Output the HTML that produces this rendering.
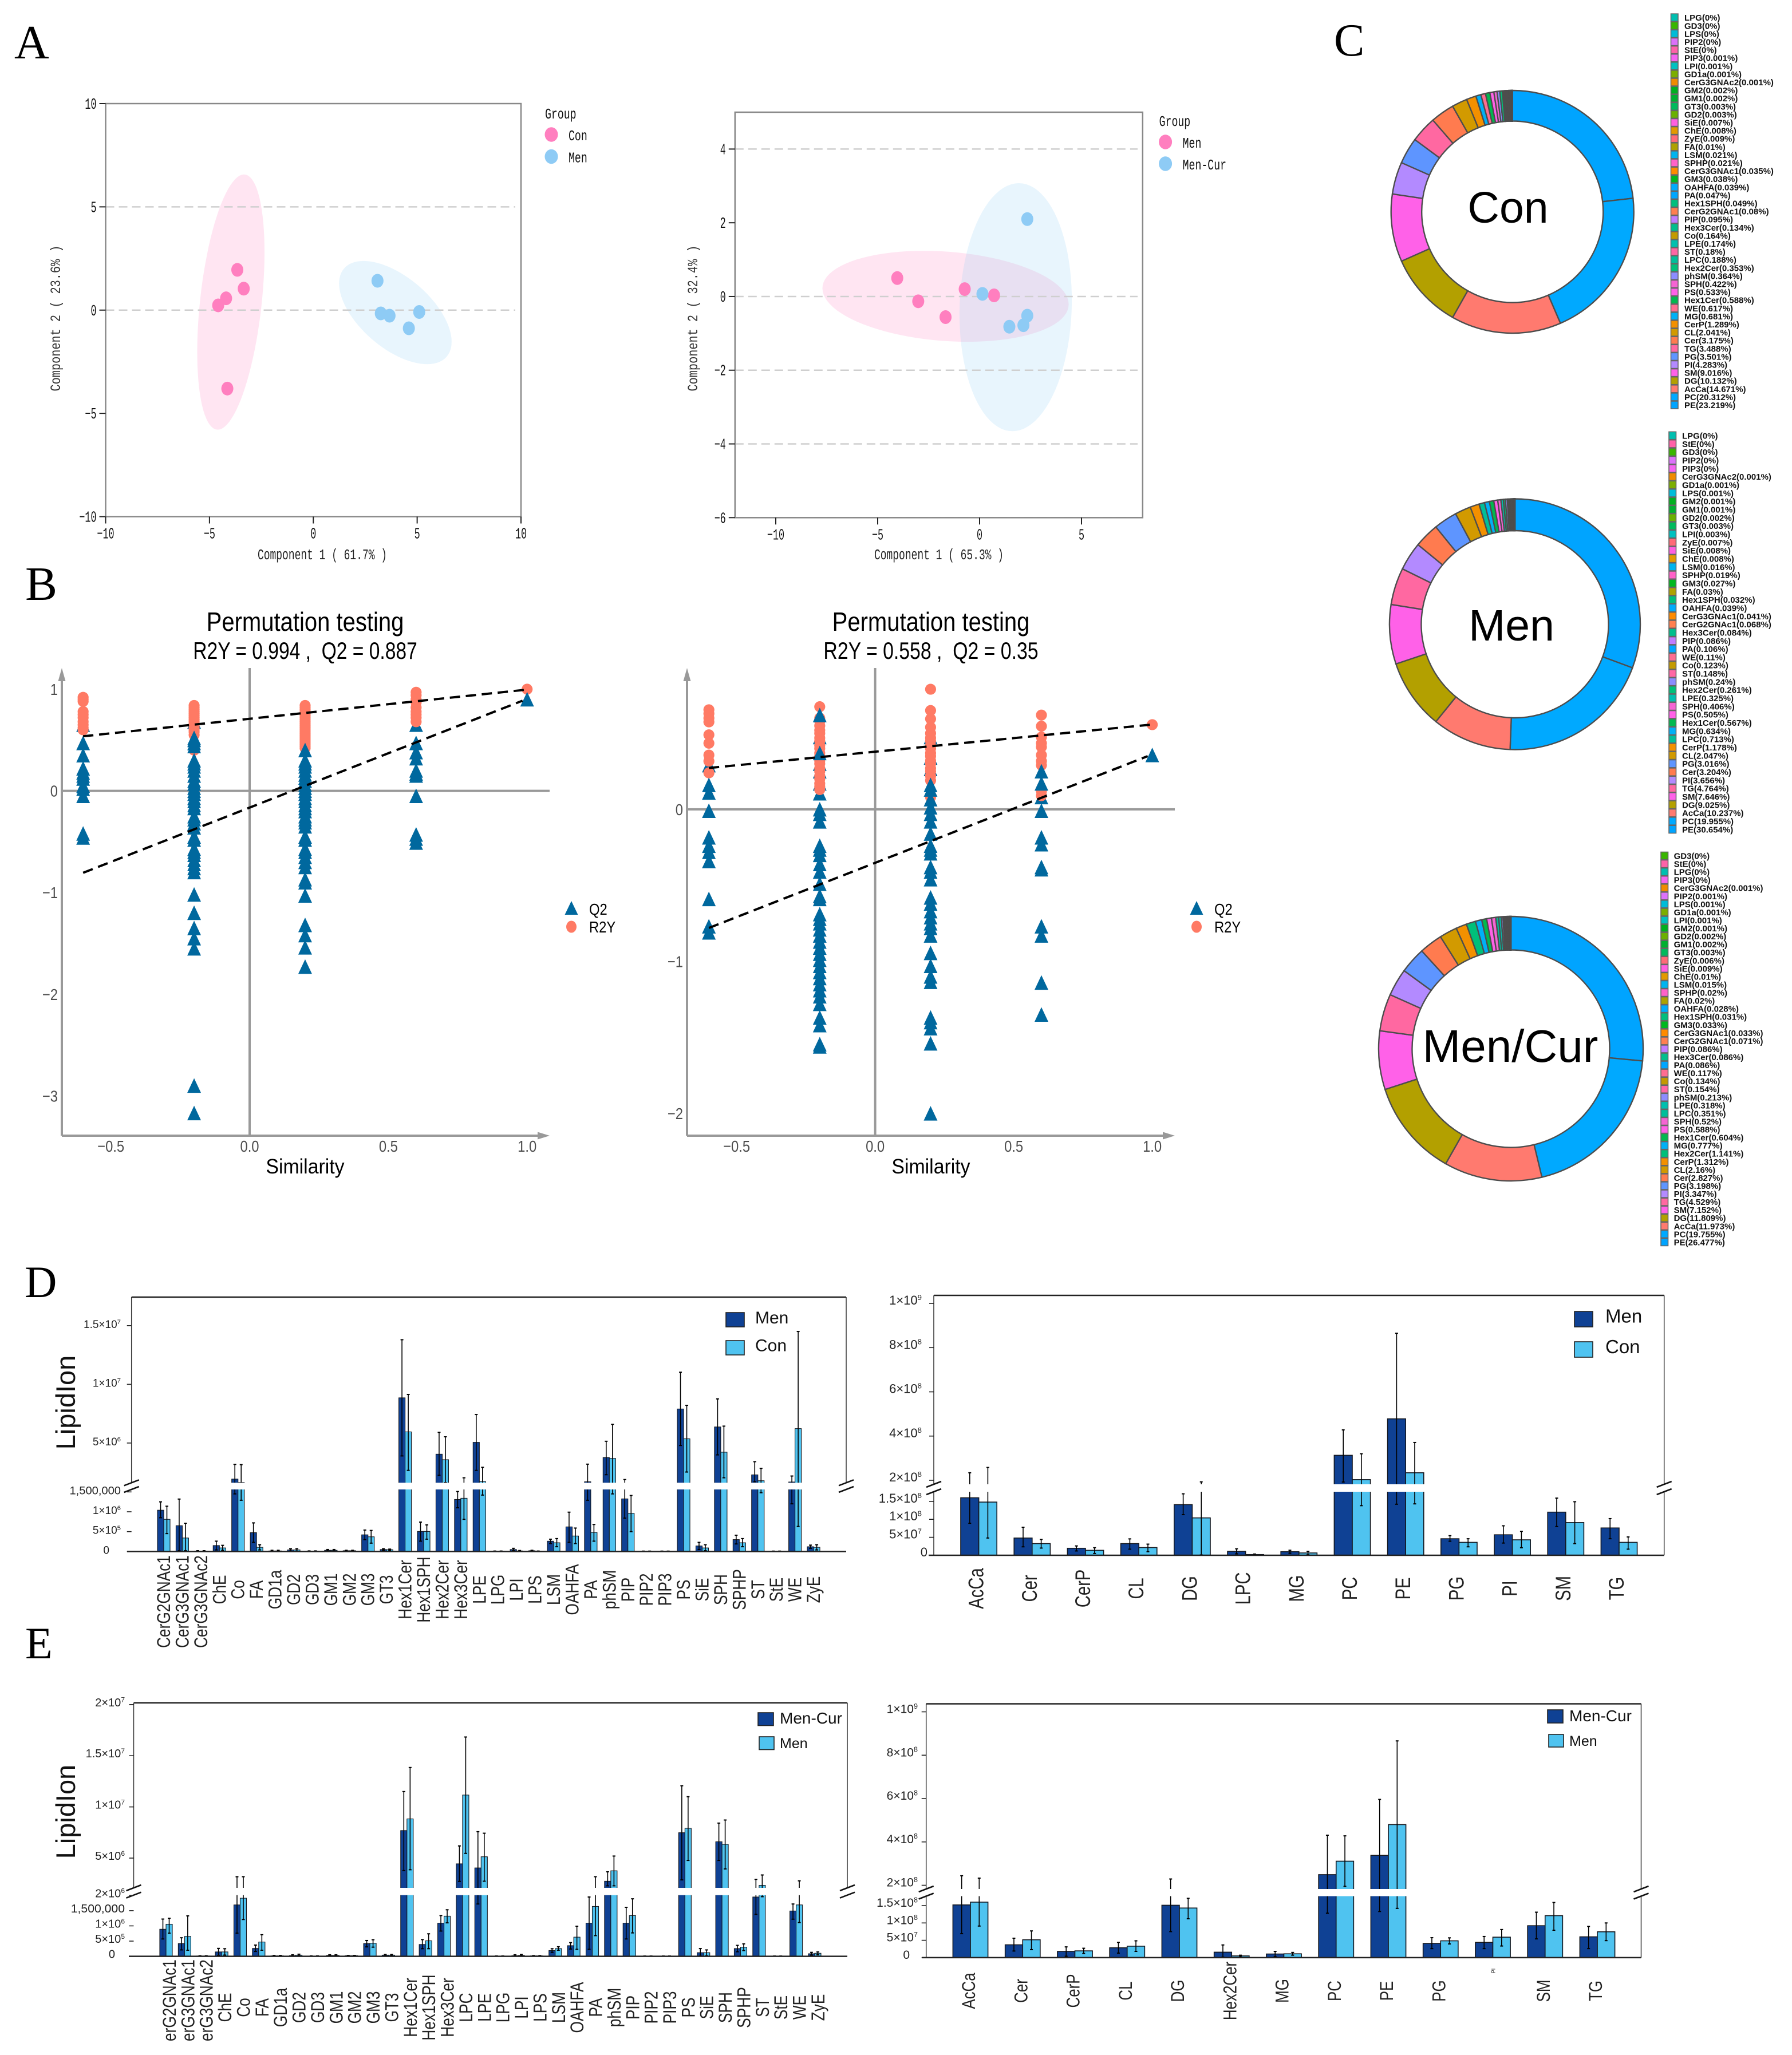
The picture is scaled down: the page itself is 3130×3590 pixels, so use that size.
<!DOCTYPE html>
<html lang="en">
<head>
<meta charset="utf-8">
<title>Lipidomics figure</title>
<style>
html,body{margin:0;padding:0;background:#fff;}
svg{display:block;}
text{white-space:pre;}
</style>
</head>
<body>
<svg id="figure" xmlns="http://www.w3.org/2000/svg" width="3130" height="3590" viewBox="0 0 3130 3590">
<defs>
<clipPath id="e1-label-clip"><rect x="200" y="3420" width="1300" height="146"></rect></clipPath>
</defs>
<rect x="0" y="0" width="3130" height="3590" fill="#fff"></rect>
<text x="25" y="102" font-family="'Liberation Serif',serif" font-size="84">A</text>
<text x="44" y="1048" font-family="'Liberation Serif',serif" font-size="84">B</text>
<text x="2330" y="97" font-family="'Liberation Serif',serif" font-size="80">C</text>
<text x="43" y="2266" font-family="'Liberation Serif',serif" font-size="78">D</text>
<text x="44" y="2897" font-family="'Liberation Serif',serif" font-size="78">E</text>
<g id="root"></g>
</svg>
<script>
// ---------- Panel A data ----------
const a1Groups = ['Con', 'Men'];
const a1ConX = [-3.66, -3.35, -4.2, -4.58, -4.14];
const a1ConY = [1.95, 1.04, 0.57, 0.23, -3.8];
const a1MenX = [3.09, 3.25, 3.67, 5.1, 4.6];
const a1MenY = [1.42, -0.16, -0.27, -0.09, -0.88];
const a1XTicks = [-10, -5, 0, 5, 10];
const a1YTicks = [10, 5, 0, -5, -10];
const a1Grid = [5, 0];
const a2Groups = ['Men', 'Men-Cur'];
const a2MenX = [-4.04, -3.01, -1.67, -0.73, 0.71];
const a2MenY = [0.5, -0.13, -0.56, 0.2, 0.03];
const a2CurX = [0.14, 2.34, 2.34, 2.15, 1.46];
const a2CurY = [0.07, 2.1, -0.52, -0.78, -0.82];
const a2XTicks = [-10, -5, 0, 5];
const a2YTicks = [4, 2, 0, -2, -4, -6];
const a2Grid = [4, 0, -2, -4, -6];

// ---------- Panel B data ----------
const similarity = [-0.6, -0.2, 0.2, 0.6, 1.0];
const bXTicks = [-0.5, 0, 0.5, 1.0];
const bXTickLabels = ['\u22120.5', '0.0', '0.5', '1.0'];
const b1YTicks = [1, 0, -1, -2, -3];
const b2YTicks = [0, -1, -2];
const b1Q2Back = [[0.65], [0.68], [], [0.65], []];
const b1R2Y = [
  [0.92, 0.9, 0.88, 0.78, 0.75, 0.72, 0.68, 0.65, 0.62, 0.6],
  [0.84, 0.82, 0.8, 0.78, 0.76, 0.74, 0.72, 0.7, 0.68, 0.66, 0.64, 0.62, 0.6, 0.58, 0.55, 0.4],
  [0.84, 0.82, 0.8, 0.78, 0.76, 0.74, 0.72, 0.7, 0.68, 0.66, 0.64, 0.62, 0.6, 0.58, 0.56, 0.54, 0.52, 0.5, 0.48, 0.46, 0.44, 0.42],
  [0.97, 0.94, 0.9, 0.87, 0.82, 0.78, 0.75, 0.72, 0.68],
  [1.0]
];
const b1Q2 = [
  [0.47, 0.35, 0.22, 0.18, 0.15, 0.12, 0.05, 0.02, -0.05, -0.42, -0.46],
  [0.52, 0.5, 0.47, 0.44, 0.3, 0.27, 0.24, 0.2, 0.15, 0.1, 0.07, 0.03, 0, -0.03, -0.07, -0.1, -0.14, -0.17, -0.25, -0.28, -0.32, -0.36, -0.45, -0.48, -0.57, -0.6, -0.63, -0.68, -0.72, -0.76, -0.8, -1.02, -1.2, -1.35, -1.45, -1.55, -2.9, -3.17],
  [0.4, 0.3, 0.27, 0.24, 0.2, 0.16, 0.13, 0.1, 0.06, 0.03, 0, -0.03, -0.07, -0.1, -0.14, -0.17, -0.2, -0.25, -0.28, -0.31, -0.35, -0.45, -0.48, -0.57, -0.6, -0.65, -0.7, -0.75, -0.87, -0.9, -1.03, -1.32, -1.42, -1.54, -1.73],
  [0.47, 0.38, 0.32, 0.2, 0.17, 0.15, -0.05, -0.43, -0.47, -0.51],
  [0.9]
];
const b1TrendR2Y = [0.537, 0.996];
const b1TrendQ2 = [-0.806, 0.887];
const b2Q2Back = [[0.29], [0.475, 0.3, 0.25, 0.17, 0.105], [0.475, 0.34, 0.265], [0.08], []];
const b2R2Y = [
  [0.655, 0.63, 0.6, 0.575, 0.49, 0.435, 0.357, 0.317, 0.24],
  [0.675, 0.6, 0.58, 0.55, 0.52, 0.5, 0.47, 0.45, 0.42, 0.4, 0.37, 0.35, 0.32, 0.3, 0.27, 0.25, 0.22, 0.2, 0.17, 0.15, 0.13],
  [0.79, 0.65, 0.595, 0.54, 0.5, 0.47, 0.45, 0.42, 0.4, 0.37, 0.35, 0.32, 0.3, 0.27, 0.25, 0.22, 0.19, 0.08],
  [0.62, 0.547, 0.475, 0.435, 0.41, 0.357, 0.317, 0.29, 0.12, 0.09],
  [0.557]
];
const b2Q2 = [
  [0.16, 0.11, -0.01, -0.185, -0.24, -0.28, -0.34, -0.59, -0.77, -0.81],
  [0.62, 0.37, 0, -0.03, -0.08, -0.24, -0.265, -0.3, -0.36, -0.41, -0.49, -0.57, -0.59, -0.69, -0.72, -0.75, -0.79, -0.83, -0.87, -0.91, -0.95, -0.99, -1.03, -1.07, -1.11, -1.15, -1.19, -1.23, -1.28, -1.37, -1.42, -1.545, -1.56],
  [0.16, 0.13, 0.066, 0.013, -0.03, -0.08, -0.16, -0.24, -0.265, -0.29, -0.38, -0.41, -0.46, -0.58, -0.62, -0.67, -0.71, -0.75, -0.78, -0.83, -0.945, -1.03, -1.1, -1.135, -1.37, -1.4, -1.44, -1.54, -2],
  [0.25, 0.17, -0.01, -0.185, -0.23, -0.38, -0.395, -0.77, -0.83, -1.14, -1.35],
  [0.357]
];
const b2TrendR2Y = [0.272, 0.558];
const b2TrendQ2 = [-0.78, 0.35];

// ---------- Panel C data (legend order, top to bottom) ----------
const conNames = ['LPG','GD3','LPS','PIP2','StE','PIP3','LPI','GD1a','CerG3GNAc2','GM2','GM1','GT3','GD2','SiE','ChE','ZyE','FA','LSM','SPHP','CerG3GNAc1','GM3','OAHFA','PA','Hex1SPH','CerG2GNAc1','PIP','Hex3Cer','Co','LPE','ST','LPC','Hex2Cer','phSM','SPH','PS','Hex1Cer','WE','MG','CerP','CL','Cer','TG','PG','PI','SM','DG','AcCa','PC','PE'];
const conValues = [0,0,0,0,0,0.001,0.001,0.001,0.001,0.002,0.002,0.003,0.003,0.007,0.008,0.009,0.01,0.021,0.021,0.035,0.038,0.039,0.047,0.049,0.08,0.095,0.134,0.164,0.174,0.18,0.188,0.353,0.364,0.422,0.533,0.588,0.617,0.681,1.289,2.041,3.175,3.488,3.501,4.283,9.016,10.132,14.671,20.312,23.219];
const menNames = ['LPG','StE','GD3','PIP2','PIP3','CerG3GNAc2','GD1a','LPS','GM2','GM1','GD2','GT3','LPI','ZyE','SiE','ChE','LSM','SPHP','GM3','FA','Hex1SPH','OAHFA','CerG3GNAc1','CerG2GNAc1','Hex3Cer','PIP','PA','WE','Co','ST','phSM','Hex2Cer','LPE','SPH','PS','Hex1Cer','MG','LPC','CerP','CL','PG','Cer','PI','TG','SM','DG','AcCa','PC','PE'];
const menValues = [0,0,0,0,0,0.001,0.001,0.001,0.001,0.001,0.002,0.003,0.003,0.007,0.008,0.008,0.016,0.019,0.027,0.03,0.032,0.039,0.041,0.068,0.084,0.086,0.106,0.11,0.123,0.148,0.24,0.261,0.325,0.406,0.505,0.567,0.634,0.713,1.178,2.047,3.016,3.204,3.656,4.764,7.646,9.025,10.237,19.955,30.654];
const curNames = ['GD3','StE','LPG','PIP3','CerG3GNAc2','PIP2','LPS','GD1a','LPI','GM2','GD2','GM1','GT3','ZyE','SiE','ChE','LSM','SPHP','FA','OAHFA','Hex1SPH','GM3','CerG3GNAc1','CerG2GNAc1','PIP','Hex3Cer','PA','WE','Co','ST','phSM','LPE','LPC','SPH','PS','Hex1Cer','MG','Hex2Cer','CerP','CL','Cer','PG','PI','TG','SM','DG','AcCa','PC','PE'];
const curValues = [0,0,0,0,0.001,0.001,0.001,0.001,0.001,0.001,0.002,0.002,0.003,0.006,0.009,0.01,0.015,0.02,0.02,0.028,0.031,0.033,0.033,0.071,0.086,0.086,0.086,0.117,0.134,0.154,0.213,0.318,0.351,0.52,0.588,0.604,0.777,1.141,1.312,2.16,2.827,3.198,3.347,4.529,7.152,11.809,11.973,19.755,26.477];

// ---------- Panel D data ----------
const d1Categories = ['CerG2GNAc1','CerG3GNAc1','CerG3GNAc2','ChE','Co','FA','GD1a','GD2','GD3','GM1','GM2','GM3','GT3','Hex1Cer','Hex1SPH','Hex2Cer','Hex3Cer','LPE','LPG','LPI','LPS','LSM','OAHFA','PA','phSM','PIP','PIP2','PIP3','PS','SiE','SPH','SPHP','ST','StE','WE','ZyE'];
// units of 1e6
const d1MenMean = [1.04,0.65,0.012,0.15,1.93,0.475,0.015,0.04,0.01,0.03,0.02,0.42,0.05,8.85,0.505,4.05,1.31,5.06,0.008,0.05,0.02,0.26,0.62,1.7,3.77,1.325,0.006,0.006,7.9,0.14,6.37,0.3,2.29,0.006,1.68,0.12];
const d1MenHigh = [1.25,1.32,0.02,0.26,3.18,0.72,0.03,0.07,0.015,0.05,0.03,0.54,0.07,13.8,0.74,5.91,1.51,7.43,0.012,0.08,0.03,0.31,0.99,3.2,5.15,1.89,0.01,0.01,11.03,0.23,8.76,0.41,3.41,0.01,2.19,0.16];
const d1MenLow = [0.85,0.02,0.005,0.04,1.45,0.23,0.005,0.01,0.005,0.01,0.01,0.3,0.03,3.9,0.26,2.25,1.1,2.67,0.004,0.02,0.01,0.2,0.23,1.29,2.3,0.84,0.002,0.002,4.79,0.05,3.99,0.19,1.7,0.002,1.2,0.08];
const d1ConMean = [0.81,0.34,0.012,0.09,1.64,0.105,0.015,0.04,0.01,0.03,0.02,0.37,0.045,5.95,0.505,3.58,1.34,1.72,0.008,0.015,0.008,0.22,0.39,0.48,3.69,0.96,0.006,0.006,5.36,0.09,4.22,0.22,1.79,0.006,6.23,0.105];
const d1ConHigh = [1.14,0.71,0.02,0.155,3.16,0.17,0.03,0.07,0.015,0.05,0.03,0.53,0.06,9.14,0.67,5.53,2.04,2.93,0.012,0.025,0.012,0.325,0.59,0.68,6.59,1.41,0.01,0.01,8.21,0.17,6.44,0.325,2.84,0.01,14.5,0.17];
const d1ConLow = [0.45,0.02,0.005,0.03,1.29,0.04,0.005,0.01,0.005,0.01,0.01,0.21,0.03,2.67,0.31,1.63,0.81,1.42,0.004,0.005,0.004,0.12,0.2,0.26,1.45,0.5,0.002,0.002,2.53,0.02,2.04,0.12,1.48,0.002,0.63,0.04];
const d1UpperTicks = [15, 10, 5];
const d1UpperLabels = ['1.5\u00d710^7', '1\u00d710^7', '5\u00d710^6'];
const d1LowerTicks = [1.5, 1, 0.5, 0];
const d1LowerLabels = ['1,500,000', '1\u00d710^6', '5\u00d710^5', '0'];

const d2Categories = ['AcCa','Cer','CerP','CL','DG','LPC','MG','PC','PE','PG','PI','SM','TG'];
// units of 1e8
const d2MenMean = [1.6,0.48,0.195,0.325,1.41,0.11,0.1,3.13,4.78,0.46,0.57,1.2,0.76];
const d2MenHigh = [2.34,0.78,0.26,0.456,1.71,0.18,0.14,4.28,8.65,0.545,0.82,1.59,1.02];
const d2MenLow = [0.89,0.235,0.12,0.17,1.13,0.04,0.055,1.92,1.42,0.39,0.34,0.8,0.46];
const d2ConMean = [1.48,0.325,0.138,0.215,1.04,0.02,0.065,2.03,2.34,0.36,0.43,0.91,0.36];
const d2ConHigh = [2.58,0.44,0.21,0.31,1.93,0.035,0.11,3.2,3.71,0.46,0.665,1.49,0.51];
const d2ConLow = [0.48,0.2,0.05,0.1,0.01,0.005,0.015,1.38,1.43,0.235,0.21,0.325,0.17];
const d2UpperTicks = [10, 8, 6, 4, 2];
const d2UpperLabels = ['1\u00d710^9', '8\u00d710^8', '6\u00d710^8', '4\u00d710^8', '2\u00d710^8'];
const d2LowerTicks = [1.5, 1, 0.5, 0];
const d2LowerLabels = ['1.5\u00d710^8', '1\u00d710^8', '5\u00d710^7', '0'];

// ---------- Panel E data ----------
const e1Categories = ['CerG2GNAc1','CerG3GNAc1','CerG3GNAc2','ChE','Co','FA','GD1a','GD2','GD3','GM1','GM2','GM3','GT3','Hex1Cer','Hex1SPH','Hex3Cer','LPC','LPE','LPG','LPI','LPS','LSM','OAHFA','PA','phSM','PIP','PIP2','PIP3','PS','SiE','SPH','SPHP','ST','StE','WE','ZyE'];
// units of 1e6
const e1CurMean = [0.89,0.42,0.012,0.145,1.69,0.26,0.015,0.025,0.01,0.03,0.02,0.42,0.04,7.69,0.39,1.09,4.44,4.04,0.008,0.02,0.015,0.19,0.35,1.09,2.74,1.09,0.006,0.006,7.48,0.12,6.6,0.255,1.95,0.006,1.49,0.085];
const e1CurHigh = [1.225,0.61,0.02,0.26,3.18,0.37,0.03,0.05,0.015,0.05,0.03,0.52,0.06,11.5,0.55,1.34,6.19,7.58,0.012,0.05,0.025,0.25,0.45,1.95,3.66,1.61,0.01,0.01,12.07,0.255,8.42,0.36,2.92,0.01,1.72,0.13];
const e1CurLow = [0.57,0.21,0.005,0.03,0.76,0.16,0.005,0.005,0.005,0.01,0.01,0.31,0.02,3.78,0.25,0.83,2.72,1.72,0.004,0.005,0.005,0.13,0.24,0.23,2.29,0.57,0.002,0.002,2.87,0.01,4.77,0.15,1.38,0.002,1.22,0.04];
const e1MenMean = [1.055,0.655,0.012,0.145,1.91,0.47,0.015,0.04,0.01,0.03,0.02,0.43,0.04,8.83,0.51,1.32,11.16,5.13,0.008,0.03,0.015,0.255,0.63,1.64,3.76,1.34,0.006,0.006,7.91,0.12,6.34,0.3,2.34,0.006,1.69,0.1];
const e1MenHigh = [1.25,1.33,0.02,0.25,3.18,0.71,0.03,0.07,0.015,0.05,0.03,0.545,0.06,13.85,0.74,1.53,16.83,7.43,0.012,0.06,0.025,0.315,0.99,3.18,5.2,1.89,0.01,0.01,11.0,0.21,8.72,0.41,3.35,0.01,2.78,0.145];
const e1MenLow = [0.76,0.2,0.005,0.04,1.21,0.2,0.005,0.01,0.005,0.01,0.01,0.3,0.02,3.86,0.25,1.1,5.46,2.74,0.004,0.01,0.005,0.2,0.23,0.68,2.29,0.77,0.002,0.002,4.77,0.02,3.94,0.19,1.96,0.002,1.11,0.05];
const e1UpperTicks = [20, 15, 10, 5];
const e1UpperLabels = ['2\u00d710^7', '1.5\u00d710^7', '1\u00d710^7', '5\u00d710^6'];
const e1LowerTicks = [2, 1.5, 1, 0.5, 0];
const e1LowerLabels = ['2\u00d710^6', '1,500,000', '1\u00d710^6', '5\u00d710^5', '0'];

const e2Categories = ['AcCa','Cer','CerP','CL','DG','Hex2Cer','MG','PC','PE','PG','PI','SM','TG'];
// units of 1e8
const e2CurMean = [1.52,0.37,0.18,0.285,1.51,0.157,0.105,2.49,3.38,0.41,0.44,0.92,0.6];
const e2CurHigh = [2.44,0.56,0.31,0.44,2.29,0.366,0.18,4.31,5.96,0.575,0.61,1.31,0.9];
const e2CurLow = [0.69,0.19,0.04,0.13,0.75,0.015,0.03,1.28,1.33,0.26,0.26,0.54,0.26];
const e2MenMean = [1.6,0.515,0.195,0.33,1.43,0.05,0.11,3.11,4.8,0.485,0.59,1.21,0.745];
const e2MenHigh = [2.33,0.77,0.27,0.485,1.71,0.07,0.15,4.28,8.66,0.57,0.81,1.59,1.0];
const e2MenLow = [0.91,0.23,0.12,0.18,1.12,0.02,0.07,1.95,1.42,0.395,0.335,0.79,0.49];
const e2UpperTicks = [10, 8, 6, 4, 2];
const e2UpperLabels = ['1\u00d710^9', '8\u00d710^8', '6\u00d710^8', '4\u00d710^8', '2\u00d710^8'];
const e2LowerTicks = [1.5, 1, 0.5, 0];
const e2LowerLabels = ['1.5\u00d710^8', '1\u00d710^8', '5\u00d710^7', '0'];

// ---------- helpers ----------
const NS = 'http://www.w3.org/2000/svg';
const root = document.getElementById('root');
const SANS = "'Liberation Sans',sans-serif";
const MONO = "'Liberation Mono',monospace";

function mark(parent, tag, attrs, name) {
  const el = document.createElementNS(NS, tag);
  for (const k in attrs) el.setAttribute(k, attrs[k]);
  
  
  parent.appendChild(el);
  return el;
}
function group(parent, name) { return mark(parent, 'g', {}, name); }
function label(parent, name, str, x, y, o) {
  o = o || {};
  const sx = o.sx || 1, rot = o.rot || 0;
  const t = mark(parent, 'text', {
    transform: `translate(${x},${y}) rotate(${rot}) scale(${sx},1)`,
    'font-family': o.family || SANS,
    'font-size': o.size || 20,
    'font-weight': o.weight || 'normal',
    'text-anchor': o.anchor || 'start',
    fill: o.fill || '#111'
  }, name);
  const parts = str.split('^');
  t.appendChild(document.createTextNode(parts[0]));
  if (parts[1]) {
    const sup = document.createElementNS(NS, 'tspan');
    sup.setAttribute('dy', -(o.size || 20) * 0.36);
    sup.setAttribute('font-size', (o.size || 20) * 0.6);
    sup.textContent = parts[1];
    t.appendChild(sup);
  }
  return t;
}
function linear(d0, d1, r0, r1) { return v => r0 + (v - d0) / (d1 - d0) * (r1 - r0); }

// ---------- Panel A: score plots ----------
function ellipsePath(s, x, y) {
  const phi = Math.acos(s.rho);
  let d = '';
  for (let a = 0; a < 360; a += 4) {
    const t = a * Math.PI / 180;
    d += (a ? 'L' : 'M') + x(s.cx + s.sx * Math.cos(t + phi)).toFixed(1) + ' ' + y(s.cy + s.sy * Math.cos(t)).toFixed(1);
  }
  return d + 'Z';
}
function drawScatter(c) {
  const g = group(root, c.name);
  const x = linear(c.xd[0], c.xd[1], c.left, c.right);
  const y = linear(c.yd[0], c.yd[1], c.bottom, c.top);
  mark(g, 'path', { d: ellipsePath(c.ell[0], x, y), fill: '#ff7fbf', 'fill-opacity': 0.2 }, 'confidence-ellipse-' + c.groups[0]);
  mark(g, 'path', { d: ellipsePath(c.ell[1], x, y), fill: '#8ecbf5', 'fill-opacity': 0.2 }, 'confidence-ellipse-' + c.groups[1]);
  c.grid.forEach(v => {
    mark(g, 'line', { x1: c.left, x2: c.gridEnd, y1: y(v), y2: y(v), stroke: '#cfcfcf', 'stroke-width': 2.5, 'stroke-dasharray': '15 8' }, 'grid-line');
  });
  mark(g, 'rect', { x: c.left, y: c.top, width: c.right - c.left, height: c.bottom - c.top, fill: 'none', stroke: '#888', 'stroke-width': 2.5 }, 'plot-frame');
  c.xt.forEach(v => {
    mark(g, 'line', { x1: x(v), x2: x(v), y1: c.bottom, y2: c.bottom + 12, stroke: '#222', 'stroke-width': 2 }, 'x-tick');
    label(g, 'x-tick-label', String(v).replace('-', '\u2212'), x(v), c.bottom + 38, { family: MONO, size: 27, sx: 0.62, anchor: 'middle' });
  });
  c.yt.forEach(v => {
    mark(g, 'line', { x1: c.left - 11, x2: c.left, y1: y(v), y2: y(v), stroke: '#222', 'stroke-width': 2 }, 'y-tick');
    label(g, 'y-tick-label', String(v).replace('-', '\u2212'), c.left - 16, y(v) + 9, { family: MONO, size: 27, sx: 0.62, anchor: 'end' });
  });
  label(g, 'x-axis-title', c.xLabel, c.xLabelX, 977, { family: MONO, size: 26, sx: 0.69, anchor: 'middle', fill: '#222' });
  label(g, 'y-axis-title', c.yLabel, c.yLabelX, 556, { family: MONO, size: 25, sx: 0.81, anchor: 'middle', rot: -90, fill: '#333' });
  const colors = ['#ff7fbf', '#8ecbf5'];
  c.pts.forEach((s, k) => {
    s[0].forEach((px, i) => {
      mark(g, 'ellipse', { cx: x(px), cy: y(s[1][i]), rx: 10.5, ry: 12, fill: colors[k] }, 'point-' + c.groups[k]);
    });
  });
  const lg = group(g, 'group-legend');
  label(lg, 'legend-title', 'Group', c.lgX, c.lgY, { family: MONO, size: 26, sx: 0.7 });
  c.groups.forEach((n, k) => {
    const cy = c.lgY + 28 + k * c.lgStep;
    mark(lg, 'ellipse', { cx: c.lgX + 11, cy: cy, rx: 11.5, ry: 12.7, fill: colors[k] }, 'legend-dot-' + n);
    label(lg, 'legend-label-' + n, n, c.lgX + 41, cy + 10, { family: MONO, size: 26, sx: 0.7 });
  });
}
drawScatter({
  name: 'score-plot-con-men', groups: a1Groups, left: 184.5, right: 910, top: 181, bottom: 902.5,
  xd: [-10, 10], yd: [-10, 10], xt: a1XTicks, yt: a1YTicks, grid: a1Grid, gridEnd: 900,
  pts: [[a1ConX, a1ConY], [a1MenX, a1MenY]],
  ell: [{ cx: -3.97, cy: 0.39, sx: 1.62, sy: 6.18, rho: 0.39 }, { cx: 3.95, cy: -0.12, sx: 2.71, sy: 2.5, rho: -0.565 }],
  xLabel: 'Component 1 ( 61.7% )', xLabelX: 563, yLabel: 'Component 2 ( 23.6% )', yLabelX: 105,
  lgX: 952, lgY: 207, lgStep: 38.5
});
drawScatter({
  name: 'score-plot-men-mencur', groups: a2Groups, left: 1283.8, right: 1995.8, top: 196, bottom: 904.3,
  xd: [-12, 8], yd: [-6, 5], xt: a2XTicks, yt: a2YTicks, grid: a2Grid, gridEnd: 1987,
  pts: [[a2MenX, a2MenY], [a2CurX, a2CurY]],
  ell: [{ cx: -1.67, cy: 0.005, sx: 6.04, sy: 1.234, rho: -0.176 }, { cx: 1.77, cy: -0.29, sx: 2.756, sy: 3.365, rho: 0.057 }],
  xLabel: 'Component 1 ( 65.3% )', xLabelX: 1640, yLabel: 'Component 2 ( 32.4% )', yLabelX: 1218,
  lgX: 2024.6, lgY: 220, lgStep: 38
});

// ---------- Panel B: permutation plots ----------
function drawPerm(c) {
  const g = group(root, c.name);
  const x = v => c.x0 + v * c.xUnit;
  const y = v => c.y0 - v * c.yUnit;
  const axisColor = '#999';
  mark(g, 'line', { x1: c.axisX, x2: c.axisEnd, y1: y(0), y2: y(0), stroke: axisColor, 'stroke-width': 4 }, 'zero-line-horizontal');
  mark(g, 'line', { x1: x(0), x2: x(0), y1: 1167, y2: 1984, stroke: axisColor, 'stroke-width': 4 }, 'zero-line-vertical');
  mark(g, 'line', { x1: c.axisX, x2: c.axisX, y1: 1180, y2: 1984, stroke: axisColor, 'stroke-width': 4 }, 'y-axis-line');
  mark(g, 'line', { x1: c.axisX, x2: c.axisEnd - 12, y1: 1984, y2: 1984, stroke: axisColor, 'stroke-width': 4 }, 'x-axis-line');
  mark(g, 'polygon', { points: `${c.axisX},1167 ${c.axisX + 6.5},1190 ${c.axisX - 6.5},1190`, fill: axisColor }, 'y-axis-arrow');
  mark(g, 'polygon', { points: `${c.axisEnd},1984 ${c.axisEnd - 21},${1984 - 6.5} ${c.axisEnd - 21},${1984 + 6.5}`, fill: axisColor }, 'x-axis-arrow');
  bXTicks.forEach((v, i) => {
    label(g, 'x-tick-label', bXTickLabels[i], x(v), 2012, { size: 28, sx: 0.85, anchor: 'middle', fill: '#4d4d4d' });
  });
  c.yt.forEach(v => {
    label(g, 'y-tick-label', String(v).replace('-', '\u2212'), c.axisX - 7, y(v) + 10, { size: 28, sx: 0.85, anchor: 'end', fill: '#4d4d4d' });
  });
  const tri = (sv, v, nm) => {
    const px = x(sv), py = y(v);
    mark(g, 'polygon', { points: `${px},${py - 13} ${px + 12},${py + 12.5} ${px - 12},${py + 12.5}`, fill: '#00689e' }, nm);
  };
  similarity.forEach((sv, i) => { c.q2Back[i].forEach(v => tri(sv, v, 'q2-point')); });
  similarity.forEach((sv, i) => {
    c.r2y[i].forEach(v => {
      mark(g, 'circle', { cx: x(sv), cy: y(v), r: 9.6, fill: '#ff7a64' }, 'r2y-point');
    });
  });
  similarity.forEach((sv, i) => { c.q2[i].forEach(v => tri(sv, v, 'q2-point')); });
  const sMin = similarity[0], sMax = similarity[similarity.length - 1];
  mark(g, 'line', { x1: x(sMin), x2: x(sMax), y1: y(c.trendR[0]), y2: y(c.trendR[1]), stroke: '#000', 'stroke-width': 4, 'stroke-dasharray': '18 10' }, 'r2y-trend-line');
  mark(g, 'line', { x1: x(sMin), x2: x(sMax) - 8, y1: y(c.trendQ[0]), y2: y(c.trendQ[1]), stroke: '#000', 'stroke-width': 4, 'stroke-dasharray': '18 10' }, 'q2-trend-line');
  label(g, 'chart-title', 'Permutation testing', c.titleX, 1102, { size: 46, sx: 0.87, anchor: 'middle', fill: '#000' });
  label(g, 'chart-subtitle', c.subtitle, c.titleX, 1151, { size: 42, sx: c.subSx, anchor: 'middle', fill: '#000' });
  label(g, 'x-axis-title', 'Similarity', c.titleX, 2050, { size: 36, sx: 0.94, anchor: 'middle', fill: '#000' });
  const lg = group(g, 'permutation-legend');
  mark(lg, 'polygon', { points: `${c.lgX},1574 ${c.lgX + 11.5},1598 ${c.lgX - 11.5},1598`, fill: '#00689e' }, 'legend-q2-marker');
  mark(lg, 'ellipse', { cx: c.lgX, cy: 1619, rx: 9, ry: 10.5, fill: '#ff7a64' }, 'legend-r2y-marker');
  label(lg, 'legend-q2-label', 'Q2', c.lgX + 31, 1598, { size: 28, sx: 0.85, fill: '#000' });
  label(lg, 'legend-r2y-label', 'R2Y', c.lgX + 31, 1629, { size: 28, sx: 0.85, fill: '#000' });
}
drawPerm({
  name: 'permutation-plot-con-men', x0: 436, xUnit: 484.7, y0: 1381.6, yUnit: 177.6, axisX: 108, axisEnd: 960,
  yt: b1YTicks, q2Back: b1Q2Back, r2y: b1R2Y, q2: b1Q2, trendR: b1TrendR2Y, trendQ: b1TrendQ2,
  titleX: 533, subtitle: 'R2Y = 0.994 ,  Q2 = 0.887', subSx: 0.8, lgX: 998
});
drawPerm({
  name: 'permutation-plot-men-mencur', x0: 1528.6, xUnit: 484, y0: 1413.9, yUnit: 265.6, axisX: 1200, axisEnd: 2052,
  yt: b2YTicks, q2Back: b2Q2Back, r2y: b2R2Y, q2: b2Q2, trendR: b2TrendR2Y, trendQ: b2TrendQ2,
  titleX: 1626, subtitle: 'R2Y = 0.558 ,  Q2 = 0.35', subSx: 0.805, lgX: 2090
});

// ---------- Panel C: donuts ----------
const lipidColors = {
  LPG:'#00bfb0',GD3:'#39b600',LPS:'#00bcd8',PIP2:'#dc71fa',StE:'#ff62a8',PIP3:'#f564f0',LPI:'#00c1c0',GD1a:'#7cae00',
  CerG3GNAc2:'#f08b00',GM2:'#00b01f',GM1:'#00b030',GT3:'#00ba5c',GD2:'#6bb100',SiE:'#ff5fe0',ChE:'#e39a00',ZyE:'#ff6a78',
  FA:'#aea200',LSM:'#00b4ef',SPHP:'#ff61c9',CerG3GNAc1:'#ff8b00',GM3:'#00b81f',OAHFA:'#00abfd',PA:'#00a6ff',Hex1SPH:'#00bf7d',
  CerG2GNAc1:'#ff7f50',PIP:'#c07cff',Hex3Cer:'#00bf8d',Co:'#c49a00',LPE:'#00c0af',ST:'#ff67a4',LPC:'#00bf9a',Hex2Cer:'#00c07a',
  phSM:'#8c8cff',SPH:'#f564d3',PS:'#ff61e8',Hex1Cer:'#00b94f',WE:'#ff6c91',MG:'#00b0f6',CerP:'#f39000',CL:'#d29a00',
  Cer:'#ff7b4f',TG:'#ff68a1',PG:'#5e95ff',PI:'#b38aff',SM:'#ff61e8',DG:'#b3a000',AcCa:'#ff7a6f',PC:'#00a9ff',PE:'#00a4ff'
};
function arcPath(cx, cy, ro, ri, a0, a1) {
  const p = (r, a) => (cx + r * Math.sin(a)).toFixed(2) + ' ' + (cy - r * Math.cos(a)).toFixed(2);
  const big = a1 - a0 > Math.PI ? 1 : 0;
  return `M${p(ro, a0)}A${ro} ${ro} 0 ${big} 1 ${p(ro, a1)}L${p(ri, a1)}A${ri} ${ri} 0 ${big} 0 ${p(ri, a0)}Z`;
}
function drawDonut(c) {
  const g = group(root, c.name);
  const total = c.values.reduce((a, b) => a + b, 0);
  let a = 0;
  for (let i = c.values.length - 1; i >= 0; i--) {
    const next = a + c.values[i] / total * Math.PI * 2;
    mark(g, 'path', { d: arcPath(c.cx, c.cy, c.ro, c.ri, a, next), fill: lipidColors[c.names[i]], stroke: '#4d4d4d', 'stroke-width': 2.4 }, 'slice-' + c.names[i]);
    a = next;
  }
  label(g, 'donut-center-label', c.title, c.tx, c.ty, { size: c.tSize, anchor: 'middle', fill: '#000' });
  const lg = group(g, c.name + '-legend');
  c.names.forEach((n, i) => {
    const y = c.lgY + i * c.lgStep;
    mark(lg, 'rect', { x: c.lgX, y: y - c.lgStep / 2 + 0.5, width: 12.5, height: c.lgStep - 1, fill: lipidColors[n], stroke: '#666', 'stroke-width': 1.6 }, 'legend-swatch-' + n);
    label(lg, 'legend-label-' + n, `${n}(${c.values[i]}%)`, c.lgX + c.textDx, y + 5.5, { size: 15, weight: 'bold', fill: '#111' });
  });
}
drawDonut({ name: 'donut-con', names: conNames, values: conValues, cx: 2641.7, cy: 370, ro: 212, ri: 158.5, title: 'Con', tx: 2634, ty: 389, tSize: 77, lgX: 2918.5, lgY: 30.7, lgStep: 14.1, textDx: 23.5 });
drawDonut({ name: 'donut-men', names: menNames, values: menValues, cx: 2646, cy: 1090.5, ro: 219, ri: 163.5, title: 'Men', tx: 2640, ty: 1119, tSize: 77, lgX: 2915, lgY: 761, lgStep: 14.33, textDx: 23 });
drawDonut({ name: 'donut-men-cur', names: curNames, values: curValues, cx: 2639, cy: 1832, ro: 231, ri: 172.5, title: 'Men/Cur', tx: 2638, ty: 1855, tSize: 80, lgX: 2901, lgY: 1495, lgStep: 14.06, textDx: 22.6 });

// ---------- Panels D, E: broken-axis bars ----------
function brokenScale(c) {
  const lower = linear(c.lowA[0], c.lowB[0], c.lowA[1], c.lowB[1]);
  const upper = linear(c.upA[0], c.upB[0], c.upA[1], c.upB[1]);
  const lowMax = c.lowA[0] + (c.gapBottom - c.lowA[1]) / (c.lowB[1] - c.lowA[1]) * (c.lowB[0] - c.lowA[0]);
  const upMin = c.upA[0] + (c.gapTop - c.upA[1]) / (c.upB[1] - c.upA[1]) * (c.upB[0] - c.upA[0]);
  return v => {
    if (v <= lowMax) return lower(v);
    if (v >= upMin) return upper(v);
    return linear(lowMax, upMin, c.gapBottom, c.gapTop)(v);
  };
}
function drawBars(c) {
  const g = group(root, c.name);
  const y = brokenScale(c);
  const xBand = i => c.x0 + i * c.step;
  const edge = '#15181f';
  mark(g, 'line', { x1: c.left, x2: c.right, y1: c.top, y2: c.top, stroke: '#222', 'stroke-width': 2.5 }, 'plot-top-border');
  const sideEnd = c.lowerFrame ? c.lowA[1] : c.gapTop;
  mark(g, 'line', { x1: c.left, x2: c.left, y1: c.top, y2: sideEnd, stroke: '#333', 'stroke-width': 1.5 }, 'plot-left-border');
  mark(g, 'line', { x1: c.right, x2: c.right, y1: c.top, y2: sideEnd, stroke: '#333', 'stroke-width': 1.5 }, 'plot-right-border');
  c.series.forEach((s, k) => {
    const color = k === 0 ? '#0f4194' : '#4fc3f0';
    c.categories.forEach((cat, i) => {
      const bx = xBand(i) + (k === 0 ? -c.barW : 0);
      const top = y(s.mean[i]);
      mark(g, 'rect', { x: bx, y: top, width: c.barW, height: Math.max(0.5, c.lowA[1] - top), fill: color, stroke: edge, 'stroke-width': c.barStroke }, `bar-${cat}-${s.name}`);
      const ex = bx + c.barW / 2;
      const hi = y(s.high[i]), lo = y(s.low[i]);
      mark(g, 'line', { x1: ex, x2: ex, y1: hi, y2: lo, stroke: '#000', 'stroke-width': 1.6 }, `error-bar-${cat}-${s.name}`);
      mark(g, 'line', { x1: ex - 2.5, x2: ex + 2.5, y1: hi, y2: hi, stroke: '#000', 'stroke-width': 2 }, 'error-cap-top');
      mark(g, 'line', { x1: ex - 2.5, x2: ex + 2.5, y1: lo, y2: lo, stroke: '#000', 'stroke-width': 2 }, 'error-cap-bottom');
    });
  });
  mark(g, 'rect', { x: c.left - 3, y: c.gapTop, width: c.right - c.left + 6, height: c.gapBottom - c.gapTop, fill: '#fff' }, 'axis-break-gap');
  mark(g, 'line', { x1: c.axisLeft, x2: c.right, y1: c.lowA[1], y2: c.lowA[1], stroke: '#222', 'stroke-width': 2.5 }, 'x-axis-line');
  [c.left, c.right].forEach(px => {
    [c.gapTop, c.gapBottom].forEach(py => {
      mark(g, 'line', { x1: px - 13, x2: px + 13, y1: py + 5, y2: py - 5, stroke: '#111', 'stroke-width': 2.6 }, 'axis-break-mark');
    });
  });
  const drawTicks = (ticks, labels, nm) => {
    ticks.forEach((v, i) => {
      mark(g, 'line', { x1: c.left - 8, x2: c.left, y1: y(v), y2: y(v), stroke: '#222', 'stroke-width': 1.6 }, nm + '-tick');
      const isZero = labels[i] === '0';
      const long = labels[i] === '1,500,000';
      label(g, nm + '-tick-label', labels[i], isZero ? c.zeroX : c.labelRight, y(v) + c.tickDy, { size: c.tickSize, anchor: 'end', fill: '#222', sx: long ? 1.06 : 1 });
    });
  };
  drawTicks(c.upperTicks, c.upperLabels, 'upper-y');
  drawTicks(c.lowerTicks, c.lowerLabels, 'lower-y');
  const lab = c.clip ? mark(g, 'g', { 'clip-path': c.clip }, 'x-axis-labels') : group(g, 'x-axis-labels');
  c.categories.forEach((cat, i) => {
    if (cat === c.tinyLabel) {
      label(lab, 'x-tick-label-' + cat, cat, xBand(i) + 4, c.tinyY, { size: 9, anchor: 'middle', rot: -90, fill: '#222' });
    } else {
      const cy = cat.indexOf('CerG') === 0 ? c.longCenter : c.labelCenter;
      label(lab, 'x-tick-label-' + cat, cat, xBand(i) + c.labelDx, cy, { size: c.labelSize, sx: c.labelSx, anchor: 'middle', rot: -90, fill: '#222' });
    }
  });
  if (c.yTitleY) {
    label(g, 'y-axis-title', 'LipidIon', 131, c.yTitleY, { size: 47, anchor: 'middle', rot: -90, fill: '#111' });
  }
  const lg = group(g, 'bar-legend');
  c.series.forEach((s, k) => {
    const l = c.legend[k];
    const color = k === 0 ? '#0f4194' : '#4fc3f0';
    mark(lg, 'rect', { x: l.x, y: l.y, width: l.w, height: l.h, fill: color, stroke: '#222', 'stroke-width': 1.6 }, 'legend-swatch-' + s.name);
    label(lg, 'legend-label-' + s.name, s.name, c.legendTextX, l.base, { size: l.size, fill: '#111', sx: l.sx || 1 });
  });
}
drawBars({
  name: 'bar-chart-men-con-minor', categories: d1Categories,
  series: [{ name: 'Men', mean: d1MenMean, high: d1MenHigh, low: d1MenLow }, { name: 'Con', mean: d1ConMean, high: d1ConHigh, low: d1ConLow }],
  left: 229.7, right: 1478, top: 2266, axisLeft: 222, gapTop: 2590.3, gapBottom: 2602, lowerFrame: false,
  lowA: [0, 2710.4], lowB: [1.5, 2606.3], upA: [5, 2520.9], upB: [15, 2315.8],
  x0: 286, step: 32.43, barW: 11, barStroke: 1.1,
  upperTicks: d1UpperTicks, upperLabels: d1UpperLabels, lowerTicks: d1LowerTicks, lowerLabels: d1LowerLabels,
  labelRight: 211, zeroX: 191, tickSize: 19, tickDy: 4,
  labelCenter: 2777, longCenter: 2798, labelDx: 11, labelSize: 32, labelSx: 0.82, yTitleY: 2450,
  legendTextX: 1319,
  legend: [{ x: 1268, y: 2293, w: 32, h: 25, base: 2312, size: 30 }, { x: 1268, y: 2342, w: 32, h: 25, base: 2360.5, size: 30 }]
});
drawBars({
  name: 'bar-chart-men-con-major', categories: d2Categories,
  series: [{ name: 'Men', mean: d2MenMean, high: d2MenHigh, low: d2MenLow }, { name: 'Con', mean: d2ConMean, high: d2ConHigh, low: d2ConLow }],
  left: 1631, right: 2906.7, top: 2263, axisLeft: 1622, gapTop: 2593, gapBottom: 2606, lowerFrame: true,
  lowA: [0, 2717], lowB: [1.5, 2622.8], upA: [2, 2586], upB: [10, 2277],
  x0: 1709.6, step: 93.2, barW: 31.6, barStroke: 1.6,
  upperTicks: d2UpperTicks, upperLabels: d2UpperLabels, lowerTicks: d2LowerTicks, lowerLabels: d2LowerLabels,
  labelRight: 1610, zeroX: 1620, tickSize: 22, tickDy: 2,
  labelCenter: 2775, longCenter: 2775, labelDx: 8, labelSize: 37, labelSx: 0.79,
  legendTextX: 2804,
  legend: [{ x: 2750, y: 2291, w: 32, h: 27, base: 2310.6, size: 33 }, { x: 2750, y: 2344, w: 32, h: 27, base: 2364, size: 33 }]
});
drawBars({
  name: 'bar-chart-mencur-men-minor', categories: e1Categories,
  series: [{ name: 'Men-Cur', mean: e1CurMean, high: e1CurHigh, low: e1CurLow }, { name: 'Men', mean: e1MenMean, high: e1MenHigh, low: e1MenLow }],
  left: 233.5, right: 1480, top: 2974.7, axisLeft: 225, gapTop: 3298, gapBottom: 3310.7, lowerFrame: false,
  lowA: [0, 3417.6], lowB: [2, 3311.3], upA: [5, 3246], upB: [20, 2977.8],
  x0: 290, step: 32.37, barW: 11, barStroke: 1.1,
  upperTicks: e1UpperTicks, upperLabels: e1UpperLabels, lowerTicks: e1LowerTicks, lowerLabels: e1LowerLabels,
  labelRight: 218, zeroX: 201, tickSize: 20, tickDy: 3,
  labelCenter: 3507, longCenter: 3504, labelDx: 17, labelSize: 32, labelSx: 0.82, yTitleY: 3165, clip: 'url(#e1-label-clip)',
  legendTextX: 1362,
  legend: [{ x: 1324, y: 2992, w: 27, h: 22.5, base: 3011, size: 28 }, { x: 1326, y: 3034, w: 26, h: 22.5, base: 3054, size: 25 }]
});
drawBars({
  name: 'bar-chart-mencur-men-major', categories: e2Categories,
  series: [{ name: 'Men-Cur', mean: e2CurMean, high: e2CurHigh, low: e2CurLow }, { name: 'Men', mean: e2MenMean, high: e2MenHigh, low: e2MenLow }],
  left: 1617.7, right: 2866.5, top: 2976.5, axisLeft: 1610, gapTop: 3300, gapBottom: 3312.5, lowerFrame: true,
  lowA: [0, 3419.9], lowB: [1.5, 3329], upA: [2, 3293.5], upB: [10, 2990.5],
  x0: 1695, step: 91.25, barW: 30.6, barStroke: 1.6,
  upperTicks: e2UpperTicks, upperLabels: e2UpperLabels, lowerTicks: e2LowerTicks, lowerLabels: e2LowerLabels,
  labelRight: 1603, zeroX: 1589, tickSize: 21, tickDy: 2,
  labelCenter: 3478, longCenter: 3478, labelDx: 8, labelSize: 32, labelSx: 0.81, tinyLabel: 'PI', tinyY: 3443,
  legendTextX: 2741,
  legend: [{ x: 2703, y: 2987, w: 27, h: 23, base: 3007, size: 28 }, { x: 2705, y: 3030, w: 26, h: 22, base: 3050, size: 25 }]
});
</script>
</body>
</html>
